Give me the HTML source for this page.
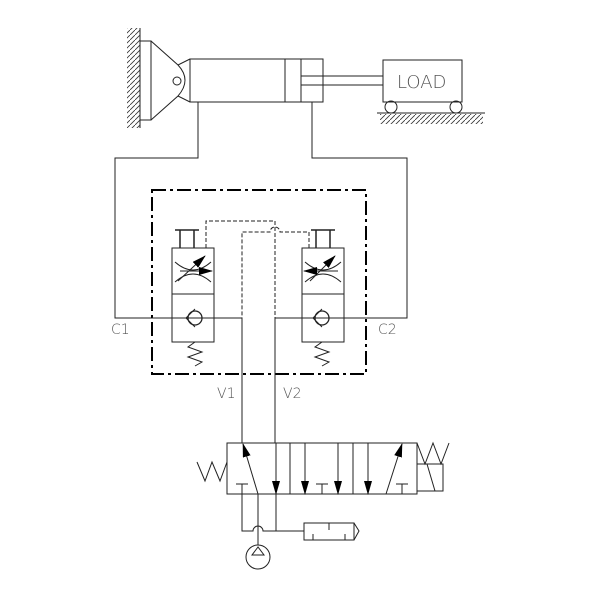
<!DOCTYPE html>
<html><head><style>body{margin:0;background:#fff}svg{display:block}text{font-family:"DejaVu Sans","Liberation Sans",sans-serif;font-size:14px;fill:#555;font-weight:200}</style></head><body>
<svg width="600" height="600" viewBox="0 0 600 600" xmlns="http://www.w3.org/2000/svg">
<defs>
<pattern id="h" width="5" height="5" patternUnits="userSpaceOnUse"><path d="M0 5L5 0" stroke="#333" stroke-width="0.8"/></pattern>
<marker id="ar" markerWidth="14" markerHeight="8" refX="13" refY="4" orient="auto" markerUnits="userSpaceOnUse"><path d="M0 0L14 4L0 8z" fill="#000"/></marker>
</defs>
<g fill="none" stroke="#222" stroke-width="1">
<line x1="140" y1="28" x2="140" y2="128"/>
<rect x="127" y="28" width="13" height="100" fill="url(#h)" stroke="none"/>
<rect x="140" y="41" width="11" height="79"/>
<path d="M151 41L178 65L190 59M151 120L178 96L190 102M178 65Q192 80 178 96"/>
<circle cx="177" cy="81" r="4"/>
<rect x="190" y="59" width="133" height="43"/>
<line x1="285" y1="59" x2="285" y2="102"/><line x1="301" y1="59" x2="301" y2="102"/>
<line x1="301" y1="76" x2="383" y2="76"/><line x1="301" y1="85" x2="383" y2="85"/>
<rect x="383" y="60" width="79" height="42"/>
<circle cx="391" cy="107" r="6"/><circle cx="456" cy="107" r="6"/>
<line x1="377" y1="113" x2="485" y2="113"/>
<rect x="380" y="114" width="103" height="10" fill="url(#h)" stroke="none"/>
<path d="M198 102V158H115V318H173"/>
<path d="M312 102V158H407V318H344"/>
<rect x="152" y="190" width="214" height="184" stroke-dasharray="14 4 3 4" stroke="#000" stroke-width="2"/>
<rect x="172" y="248" width="42" height="94"/>
<line x1="172" y1="294" x2="214" y2="294"/>
<path d="M180 248V230M194 248V230M175 230H199" stroke-width="1.5"/>
<path d="M175 262Q193 278 211 262M175 282Q193 266 211 282"/>
<line x1="178" y1="281" x2="205" y2="256" marker-end="url(#ar)"/>
<line x1="180" y1="271" x2="212" y2="271" marker-end="url(#ar)"/>
<circle cx="195" cy="318" r="7" stroke-width="1.3"/>
<path d="M186 318L195 309M186 318L195 327"/>
<line x1="152" y1="318" x2="242" y2="318"/>
<path d="M195 342L188 347L202 352L188 357L202 362L195 366"/>
<rect x="302" y="248" width="42" height="94"/>
<line x1="302" y1="294" x2="344" y2="294"/>
<path d="M316 248V230M330 248V230M311 230H335" stroke-width="1.5"/>
<path d="M305 262Q323 278 341 262M305 282Q323 266 341 282"/>
<line x1="310" y1="281" x2="335" y2="256" marker-end="url(#ar)"/>
<line x1="338" y1="271" x2="304" y2="271" marker-end="url(#ar)"/>
<circle cx="322" cy="318" r="7" stroke-width="1.3"/>
<path d="M313 318L322 309M313 318L322 327"/>
<line x1="275" y1="318" x2="407" y2="318"/>
<path d="M322 342L315 347L329 352L315 357L329 362L322 366"/>
<path d="M206 248V221H275V318" stroke-dasharray="4 2"/>
<path d="M309 248V232H280A5 5 0 0 0 270 232H242V318" stroke-dasharray="4 2"/>
<line x1="242" y1="318" x2="242" y2="443"/>
<line x1="275" y1="318" x2="275" y2="443"/>
<rect x="227" y="443" width="190" height="51"/>
<line x1="290" y1="443" x2="290" y2="494"/><line x1="353" y1="443" x2="353" y2="494"/>
<rect x="417" y="464" width="26" height="27"/>
<path d="M417 443L425 464L433 443L441 464L449 443M427 464L435 491"/>
<path d="M227 462L220 481L212 462L205 481L197 462"/>
<line x1="258" y1="494" x2="243" y2="444" marker-end="url(#ar)"/>
<line x1="276" y1="443" x2="276" y2="494" marker-end="url(#ar)"/>
<path d="M242 494V484M236 484H248"/>
<line x1="305" y1="443" x2="305" y2="494" marker-end="url(#ar)"/>
<line x1="338" y1="443" x2="338" y2="494" marker-end="url(#ar)"/>
<path d="M322 494V484M316 484H328"/>
<line x1="368" y1="443" x2="368" y2="494" marker-end="url(#ar)"/>
<line x1="386" y1="494" x2="402" y2="444" marker-end="url(#ar)"/>
<path d="M402 494V484M396 484H408"/>
<path d="M242 494V531H253A5 5 0 0 1 263 531H304"/>
<line x1="276" y1="494" x2="276" y2="531"/>
<line x1="258" y1="494" x2="258" y2="545"/>
<circle cx="258" cy="557" r="12"/>
<path d="M258 547L252 555H264Z"/>
<rect x="304" y="523" width="50" height="17"/>
<path d="M354 523L359 531L354 540M329 523V530M313 540V534M345 540V534"/>
</g>
<text x="397" y="88" style="font-size:18px">LOAD</text>
<text x="111" y="334">C1</text>
<text x="378" y="334">C2</text>
<text x="217" y="398">V1</text>
<text x="283" y="398">V2</text>
</svg>
</body></html>
